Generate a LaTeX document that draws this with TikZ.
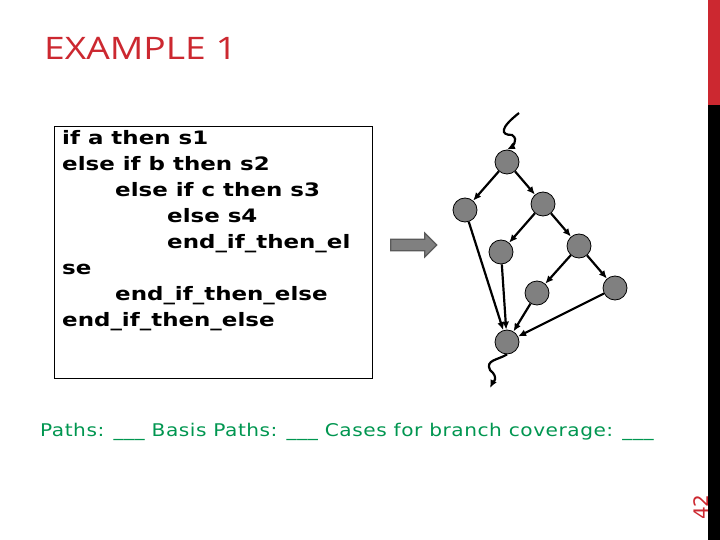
\documentclass[tikz,border=0pt]{standalone}
\usepackage{fontspec}
\setmainfont{DejaVu Sans}
\newfontfamily\codefont[FakeStretch=1.24]{DejaVu Sans}
\newfontfamily\greenfont[FakeStretch=1.15,LetterSpace=3]{DejaVu Sans}
\newfontfamily\titlefont[FakeStretch=1.2]{Open Sans}
\usetikzlibrary{arrows.meta,shapes.arrows,decorations.pathmorphing}
\definecolor{slred}{RGB}{204,40,48}
\definecolor{grn}{RGB}{0,150,80}
\definecolor{ngray}{RGB}{128,128,128}
\begin{document}
\begin{tikzpicture}[x=1pt,y=-1pt,
  vtx/.style={circle,draw=black,fill=ngray,minimum size=24pt,inner sep=0pt,line width=0.8pt},
  edge/.style={-{Latex[length=8pt,width=7pt]},line width=2.2pt},
  wav/.style={line width=2.2pt}]
\useasboundingbox (0,0) rectangle (720,540);
\fill[white] (0,0) rectangle (720,540);
\fill[slred] (708,0) rectangle (720,105);
\fill[black] (708,105) rectangle (720,540);
\node[rotate=90,text=slred,font=\fontsize{20}{20}\selectfont,inner sep=0pt] (pg) at (701,507) {42};
\node[anchor=base west,font=\titlefont\fontsize{31}{31}\selectfont,text=slred,inner sep=0pt] (title) at (44,60) {EXAMPLE 1};
\node[draw=black,line width=0.8pt,minimum width=318pt,minimum height=252pt,anchor=north west,inner sep=0pt] (box) at (54,126) {};
\node[anchor=north west,align=left,font=\codefont\fontsize{18.5}{26}\selectfont\bfseries,inner sep=0pt] (code) at (62,130) {if a then s1\\
else if b then s2\\
\hspace*{53pt}else if c then s3\\
\hspace*{105pt}else s4\\
\hspace*{105pt}end\_if\_then\_el\\
se\\
\hspace*{53pt}end\_if\_then\_else\\
end\_if\_then\_else};
\node[single arrow,draw=ngray!70!black,fill=ngray,line width=1.2pt,minimum height=46pt,minimum width=24pt,single arrow head extend=4pt,inner sep=3pt] (arr) at (411,245) {};
\node[vtx] (n1) at (507,162) {};
\node[vtx] (n2) at (465,210) {};
\node[vtx] (n3) at (543,204) {};
\node[vtx] (n4) at (501,252) {};
\node[vtx] (n5) at (579,246) {};
\node[vtx] (n6) at (537,293) {};
\node[vtx] (n7) at (615,288) {};
\node[vtx] (n8) at (507,342) {};
\coordinate (tin) at (519,113);
\coordinate (tout) at (490,388);
\draw[wav,-{Latex[length=8pt,width=7pt]}] (tin) .. controls (500,128) and (500,135) .. (512,135) .. controls (520,140) and (510,148) .. (n1.north);
\draw[wav,-{Latex[length=8pt,width=7pt]}] (n8.south) .. controls (498,360) and (485,360) .. (490,370) .. controls (500,378) and (492,384) .. (tout);
\draw[edge] (n1) -- (n2);
\draw[edge] (n1) -- (n3);
\draw[edge] (n3) -- (n4);
\draw[edge] (n3) -- (n5);
\draw[edge] (n5) -- (n6);
\draw[edge] (n5) -- (n7);
\draw[edge] (n2) -- (n8);
\draw[edge] (n4) -- (n8);
\draw[edge] (n6) -- (n8);
\draw[edge] (n7) -- (n8);
\node[anchor=base west,text=grn,font=\greenfont\fontsize{17.5}{17.5}\selectfont,inner sep=0pt] (paths) at (40,436) {Paths: \_\_\_ Basis Paths: \_\_\_ Cases for branch coverage: \_\_\_};
\end{tikzpicture}
\end{document}
